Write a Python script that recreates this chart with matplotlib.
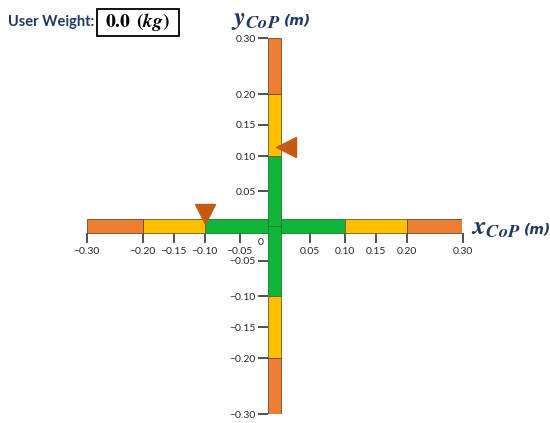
import numpy as np
import matplotlib
matplotlib.use("Agg")
import matplotlib.pyplot as plt
import matplotlib.transforms as mtransforms
from matplotlib.patches import Rectangle

# zone limits (m) and colours, same on both axes
zone_edges = [0.0, 0.10, 0.20, 0.30]
zone_colors = ["#13B43A", "#FFC000", "#ED7D31"]
zone_edgecolors = ["#0E7F27", "#6B5A2A", "#6B4A2A"]

x_ticks = [-0.30, -0.20, -0.15, -0.10, -0.05, 0.05, 0.10, 0.15, 0.20, 0.30]
x_labels = ["\u22120.30", "\u22120.20", "\u22120.15", "\u22120.10", "\u22120.05",
            "0.05", "0.10", "0.15", "0.20", "0.30"]
y_ticks = [-0.30, -0.20, -0.15, -0.10, -0.05, 0.05, 0.10, 0.15, 0.20, 0.30]
y_labels = x_labels

cop_x = -0.10
cop_y = 0.115
user_weight = 0.0

navy = "#1F3864"
plt.rcParams["mathtext.fontset"] = "stix"

# piecewise-linear scale: zones get unequal lengths (in px)
zone_px = [0, 70, 132, 188]


def fwd(v):
    v = np.asarray(v, dtype=float)
    return np.sign(v) * np.interp(np.abs(v), zone_edges, zone_px)


def inv(p):
    p = np.asarray(p, dtype=float)
    return np.sign(p) * np.interp(np.abs(p), zone_px, zone_edges)


W, H = 550, 423
fig = plt.figure(figsize=(5.5, 4.23), dpi=100)
x0, y0 = 274.5, 226  # origin in pixels (from top)
ax = fig.add_axes([(x0 - 188) / W, (H - y0 - 188) / H, 376 / W, 376 / H])
ax.set_xscale("function", functions=(fwd, inv))
ax.set_yscale("function", functions=(fwd, inv))
ax.set_xlim(-0.30, 0.30)
ax.set_ylim(-0.30, 0.30)

half_h = 0.0093  # half thickness of horizontal bar
half_v = 0.0093

# horizontal bar
for i in range(3):
    lo, hi = zone_edges[i], zone_edges[i + 1]
    for a, b in [(lo, hi), (-hi, -lo)]:
        ax.barh(0, b - a, left=a, height=2 * half_h, color=zone_colors[i],
                edgecolor=zone_edgecolors[i], linewidth=0.6, zorder=2)
# vertical bar
for i in range(3):
    lo, hi = zone_edges[i], zone_edges[i + 1]
    for a, b in [(lo, hi), (-hi, -lo)]:
        ax.bar(0, b - a, bottom=a, width=2 * half_v, color=zone_colors[i],
               edgecolor=zone_edgecolors[i], linewidth=0.6, zorder=3)

# axes drawn along the bars
for s in ["top", "right"]:
    ax.spines[s].set_visible(False)
ax.spines["bottom"].set_position(("data", -half_h))
ax.spines["left"].set_position(("data", -half_v))
ax.spines["bottom"].set_color("none")
ax.spines["left"].set_color("none")
ax.set_xticks(x_ticks)
ax.set_xticklabels(x_labels)
ax.set_yticks(y_ticks)
ax.set_yticklabels(y_labels)
ax.minorticks_off()
ax.tick_params(axis="both", direction="out", length=7.2, width=1.1, color="#222222",
               labelsize=7.5, labelcolor="#262626")
ax.tick_params(axis="x", pad=3)
ax.tick_params(axis="y", pad=1.5)
for lab in ax.get_xticklabels() + ax.get_yticklabels():
    lab.set_family(["Lato", "DejaVu Sans"])
ax.patch.set_visible(False)

# origin label
fig.text(260.5 / W, 1 - 242 / H, "0", fontsize=7.5, color="#262626",
         family=["Lato", "DejaVu Sans"], ha="center", va="center")

# CoP markers
tri = "#C55A11"
off_x = mtransforms.offset_copy(ax.transData, fig=fig, x=0, y=11.5, units="dots")
ax.plot([cop_x], [0], marker="v", markersize=14, color=tri, transform=off_x,
        clip_on=False, zorder=5, linestyle="none")
off_y = mtransforms.offset_copy(ax.transData, fig=fig, x=11, y=0, units="dots")
ax.plot([0], [cop_y], marker="<", markersize=14, color=tri, transform=off_y,
        clip_on=False, zorder=5, linestyle="none")

# axis titles
fig.text(231 / W, 1 - 25 / H, r"$\mathbfit{y}_{\mathbfit{CoP}}$", fontsize=19, color=navy,
         ha="left", va="baseline")
fig.text(284 / W, 1 - 24 / H, "(m)", fontsize=10, color=navy, style="italic",
         weight="bold", family="DejaVu Sans", ha="left", va="baseline")
fig.text(471 / W, 1 - 234 / H, r"$\mathbfit{x}_{\mathbfit{CoP}}$", fontsize=19, color=navy,
         ha="left", va="baseline")
fig.text(524 / W, 1 - 233 / H, "(m)", fontsize=10, color=navy, style="italic",
         weight="bold", family="DejaVu Sans", ha="left", va="baseline")

# user weight box
fig.text(8 / W, 1 - 22 / H, "User Weight:", fontsize=10.5, color=navy, weight="bold",
         family=["Lato", "DejaVu Sans"], ha="left", va="center")
fig.patches.append(Rectangle((97 / W, 1 - 36 / H), 82 / W, 27 / H, transform=fig.transFigure,
                             facecolor="white", edgecolor="black", linewidth=1.3))
fig.text(138 / W, 1 - 22 / H,
         r"$\mathbf{%.1f}\ \,\mathbf{(}\mathbfit{kg}\mathbf{)}$" % user_weight,
         fontsize=14, color="black", ha="center", va="center")

fig.savefig("out.png", dpi=100)
